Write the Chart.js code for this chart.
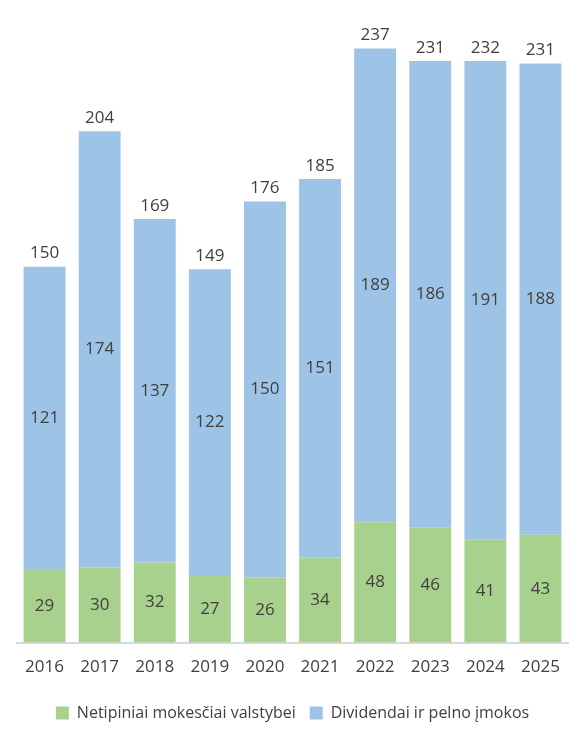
<!DOCTYPE html>
<html>
<head>
<meta charset="utf-8">
<script src="https://cdn.jsdelivr.net/npm/chart.js@4.4.1/dist/chart.umd.min.js"></script>
<style>
  html, body { margin: 0; padding: 0; background: #fff; }
  #wrap { width: 583px; height: 736px; }
</style>
</head>
<body>
<div id="wrap"><canvas id="chart" width="583" height="736"></canvas></div>
<script>
// Duomenys
const metai = ['2016', '2017', '2018', '2019', '2020', '2021', '2022', '2023', '2024', '2025'];
const netipiniai = [29, 30, 32, 27, 26, 34, 48, 46, 41, 43];
const dividendai = [121, 174, 137, 122, 150, 151, 189, 186, 191, 188];
const viso = [150, 204, 169, 149, 176, 185, 237, 231, 232, 231];

const teksto = '#404040';
const sriftas = "'Open Sans', 'Noto Sans', sans-serif";

// Reikšmės ant stulpelių ir sumos virš jų
const etiketes = {
  id: 'etiketes',
  afterDatasetsDraw(chart) {
    const ctx = chart.ctx;
    ctx.save();
    ctx.font = '17px ' + sriftas;
    ctx.fillStyle = teksto;
    ctx.textAlign = 'center';
    ctx.textBaseline = 'middle';
    chart.data.datasets.forEach((ds, i) => {
      const meta = chart.getDatasetMeta(i);
      meta.data.forEach((bar, j) => {
        ctx.fillText(ds.data[j], bar.x, (bar.y + bar.base) / 2);
      });
    });
    const virsus = chart.getDatasetMeta(chart.data.datasets.length - 1);
    virsus.data.forEach((bar, j) => {
      ctx.fillText(viso[j], bar.x, bar.y - 13);
    });
    ctx.restore();
  }
};

new Chart(document.getElementById('chart'), {
  type: 'bar',
  data: {
    labels: metai,
    datasets: [
      {
        label: 'Netipiniai mokesčiai valstybei',
        data: netipiniai,
        backgroundColor: '#A9D18E'
      },
      {
        label: 'Dividendai ir pelno įmokos',
        data: dividendai,
        backgroundColor: '#9DC3E6'
      }
    ]
  },
  options: {
    responsive: false,
    animation: false,
    layout: { padding: { left: 17, right: 15, top: 16, bottom: 5 } },
    datasets: { bar: { categoryPercentage: 1, barPercentage: 0.76 } },
    scales: {
      x: {
        stacked: true,
        grid: { display: false, drawTicks: false },
        border: { color: '#D9D9D9', width: 2 },
        ticks: { color: teksto, font: { family: sriftas, size: 17 }, padding: 14 }
      },
      y: {
        stacked: true,
        display: false,
        min: 0,
        max: 250
      }
    },
    plugins: {
      legend: {
        position: 'bottom',
        labels: {
          color: teksto,
          font: { family: sriftas, size: 16 },
          boxWidth: 13,
          boxHeight: 13,
          padding: 14
        }
      },
      tooltip: { enabled: false }
    }
  },
  plugins: [etiketes]
});
</script>
</body>
</html>
